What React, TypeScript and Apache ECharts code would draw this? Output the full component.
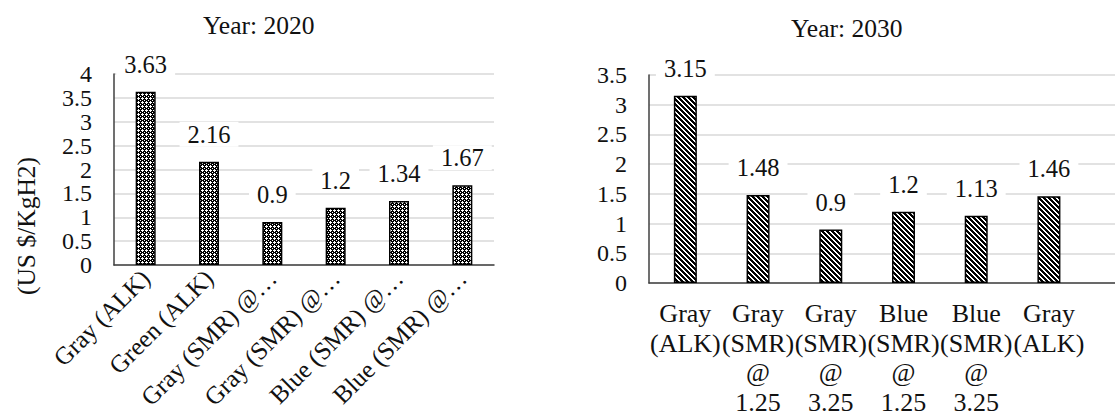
import React, { useEffect, useRef } from "react";
import * as echarts from "echarts";

const title2020 = "Year: 2020";
const title2030 = "Year: 2030";
const yAxisName = "(US $/KgH2)";

const categories2020 = [
  "Gray (ALK)",
  "Green (ALK)",
  "Gray (SMR) @ 1.25",
  "Gray (SMR) @ 3.25",
  "Blue (SMR) @ 1.25",
  "Blue (SMR) @ 3.25",
];
const values2020 = [3.63, 2.16, 0.9, 1.2, 1.34, 1.67];

const categories2030 = [
  "Gray (ALK)",
  "Gray (SMR) @ 1.25",
  "Gray (SMR) @ 3.25",
  "Blue (SMR) @ 1.25",
  "Blue (SMR) @ 3.25",
  "Gray (ALK)",
];
const values2030 = [3.15, 1.48, 0.9, 1.2, 1.13, 1.46];

const FONT = "Liberation Serif";
const TEXT = "#111111";

function makePattern(kind: "check" | "stripe") {
  const n = kind === "check" ? 4 : 5;
  const c = document.createElement("canvas");
  c.width = n;
  c.height = n;
  const ctx = c.getContext("2d")!;
  ctx.fillStyle = "#ffffff";
  ctx.fillRect(0, 0, n, n);
  ctx.fillStyle = "#000000";
  for (let x = 0; x < n; x++) {
    for (let y = 0; y < n; y++) {
      let black = false;
      if (kind === "check") {
        const white =
          (x === 2 && y === 1) ||
          (x === 1 && y === 2) ||
          (x === 2 && y === 2) ||
          (x === 3 && y === 2) ||
          (x === 2 && y === 3) ||
          (x === 0 && y === 0);
        black = !white;
      } else {
        black = ((x - y + n * 2) % n) < 3;
      }
      if (black) ctx.fillRect(x, y, 1, 1);
    }
  }
  return c;
}

export default function App() {
  const ref = useRef<HTMLDivElement>(null);

  useEffect(() => {
    if (!ref.current) return;
    const chart = echarts.init(ref.current, undefined, { renderer: "svg" });

    const axisLineStyle = { color: "#404040", width: 1.5 };
    const splitLineStyle = { color: "#d9d9d9", width: 1.5 };
    const labelCommon = {
      show: true,
      position: "top",
      distance: 15,
      fontSize: 24.5,
      fontFamily: FONT,
      color: TEXT,
      backgroundColor: "#ffffff",
      padding: [0, 8],
    };
    const yLabel = {
      margin: 22,
      fontSize: 24,
      lineHeight: 18,
      fontFamily: FONT,
      color: TEXT,
      showMinLabel: true,
      showMaxLabel: true,
      hideOverlap: false,
    };

    const option: any = {
      animation: false,
      backgroundColor: "#ffffff",
      textStyle: { fontFamily: FONT },
      grid: [
        { left: 114, top: 74, right: 621, bottom: 151, outerBoundsMode: "none", containLabel: false },
        { left: 649, top: 75, right: -43, bottom: 133, outerBoundsMode: "none", containLabel: false },
      ],
      xAxis: [
        {
          type: "category",
          gridIndex: 0,
          data: categories2020,
          axisTick: { show: false },
          axisLine: { show: true, lineStyle: axisLineStyle },
          axisLabel: {
            interval: 0,
            rotate: 45,
            margin: 9,
            fontSize: 25,
            fontFamily: FONT,
            color: TEXT,
            hideOverlap: false,
            formatter: (v: string) => (v.length > 12 ? v.slice(0, 12) + "…" : v),
          },
        },
        {
          type: "category",
          gridIndex: 1,
          data: categories2030,
          max: categories2030.length,
          axisTick: { show: false },
          axisLine: { show: true, lineStyle: axisLineStyle },
          axisLabel: {
            interval: 0,
            margin: 16,
            fontSize: 26,
            lineHeight: 29.5,
            fontFamily: FONT,
            color: TEXT,
            hideOverlap: false,
            formatter: (v: string) => (v ? v.split(" ").join("\n") : ""),
          },
        },
      ],
      yAxis: [
        {
          type: "value",
          gridIndex: 0,
          min: 0,
          max: 4,
          interval: 0.5,
          axisLine: { show: true, lineStyle: axisLineStyle },
          axisTick: { show: false },
          splitLine: { show: true, lineStyle: splitLineStyle },
          axisLabel: yLabel,
        },
        {
          type: "value",
          gridIndex: 1,
          min: 0,
          max: 3.5,
          interval: 0.5,
          axisLine: { show: true, lineStyle: axisLineStyle },
          axisTick: { show: false },
          splitLine: { show: true, lineStyle: splitLineStyle },
          axisLabel: yLabel,
        },
      ],
      series: [
        {
          type: "bar",
          xAxisIndex: 0,
          yAxisIndex: 0,
          data: values2020,
          barWidth: 20,
          itemStyle: {
            color: { image: makePattern("check"), repeat: "repeat" },
            borderColor: "#000000",
            borderWidth: 1.5,
          },
          label: labelCommon,
        },
        {
          type: "bar",
          xAxisIndex: 1,
          yAxisIndex: 1,
          data: values2030,
          barWidth: 23,
          itemStyle: {
            color: { image: makePattern("stripe"), repeat: "repeat" },
            borderColor: "#000000",
            borderWidth: 1.5,
          },
          label: labelCommon,
        },
      ],
      graphic: [
        {
          type: "text",
          x: 258.7,
          y: 25,
          style: {
            text: title2020,
            fontSize: 25.5,
            fontFamily: FONT,
            fill: TEXT,
            align: "center",
            verticalAlign: "middle",
            textAlign: "center",
            textVerticalAlign: "middle",
          },
        },
        {
          type: "text",
          x: 846.7,
          y: 28,
          style: {
            text: title2030,
            fontSize: 25.5,
            fontFamily: FONT,
            fill: TEXT,
            align: "center",
            verticalAlign: "middle",
            textAlign: "center",
            textVerticalAlign: "middle",
          },
        },
        {
          type: "text",
          x: 26,
          y: 226,
          rotation: Math.PI / 2,
          style: {
            text: yAxisName,
            fontSize: 25.5,
            fontFamily: FONT,
            fill: TEXT,
            align: "center",
            verticalAlign: "middle",
            textAlign: "center",
            textVerticalAlign: "middle",
          },
        },
      ],
    };

    chart.setOption(option);
    return () => chart.dispose();
  }, []);

  return (
    <div
      ref={ref}
      style={{
        position: "fixed",
        left: 0,
        top: 0,
        width: 1115,
        height: 416,
        background: "#ffffff",
      }}
    />
  );
}
